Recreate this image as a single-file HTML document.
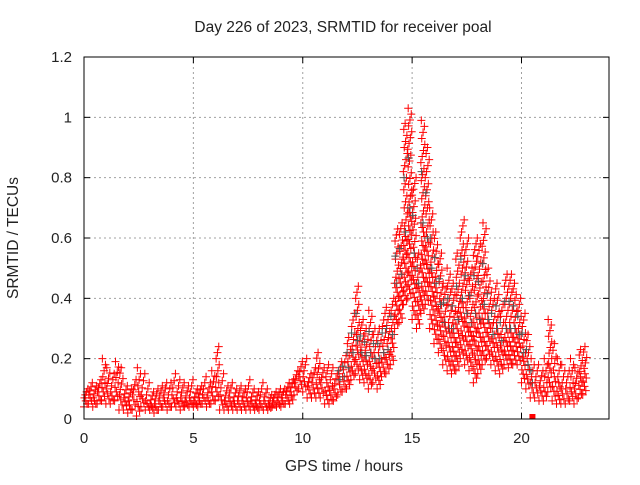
<!DOCTYPE html>
<html><head><meta charset="utf-8"><style>
body{margin:0;background:#fff}
svg text{font-family:"Liberation Sans",sans-serif;font-size:15px;fill:#222}
svg text.big{font-size:15.5px}
</style></head><body>
<svg id="c" width="640" height="480"></svg>
<script>
const times=[];for(let i=0;i<=114;i++)times.push(+(i*0.2).toFixed(1));
const hiVals=[.10,.12,.11,.13,.20,.17,.15,.19,.17,.11,.10,.13,.17,.15,.12,.09,.10,.11,.12,.12,.15,.13,.12,.11,.13,.10,.11,.14,.12,.16,.24,.15,.11,.12,.10,.11,.10,.13,.10,.09,.12,.10,.08,.09,.10,.10,.12,.13,.16,.19,.20,.15,.17,.22,.17,.18,.17,.15,.19,.21,.27,.35,.44,.33,.30,.36,.30,.30,.35,.37,.40,.63,.65,.98,1.03,.80,.55,.99,.90,.70,.62,.55,.45,.50,.45,.55,.66,.60,.50,.60,.58,.65,.50,.42,.45,.38,.48,.48,.45,.40,.35,.28,.20,.18,.16,.20,.33,.25,.20,.18,.16,.20,.17,.23,.24];
const midVals=[.07,.08,.07,.09,.12,.10,.09,.12,.08,.07,.06,.08,.09,.08,.06,.05,.05,.06,.07,.06,.08,.07,.07,.06,.07,.06,.07,.08,.07,.09,.12,.08,.06,.07,.06,.06,.06,.07,.06,.05,.06,.06,.05,.06,.06,.07,.08,.09,.12,.14,.14,.11,.12,.13,.12,.12,.11,.10,.13,.14,.17,.22,.26,.22,.21,.22,.20,.20,.22,.23,.28,.45,.48,.62,.70,.55,.45,.65,.60,.50,.45,.38,.32,.30,.30,.33,.40,.35,.32,.35,.33,.38,.33,.28,.30,.26,.30,.30,.30,.28,.22,.18,.12,.12,.11,.12,.20,.14,.12,.10,.10,.12,.10,.14,.15];
const loVals=[.04,.05,.04,.05,.06,.05,.05,.06,.03,.03,.02,.03,.01,.04,.03,.03,.02,.03,.04,.03,.04,.04,.03,.04,.04,.04,.04,.05,.04,.05,.06,.03,.03,.03,.03,.03,.03,.03,.03,.03,.03,.03,.03,.04,.04,.04,.05,.05,.08,.10,.09,.07,.07,.07,.07,.05,.05,.06,.08,.09,.10,.13,.15,.13,.12,.10,.12,.10,.14,.15,.18,.30,.32,.38,.40,.33,.30,.35,.38,.30,.25,.22,.18,.16,.15,.16,.20,.18,.16,.12,.15,.18,.20,.18,.16,.15,.18,.17,.18,.18,.12,.10,.07,.07,.06,.06,.09,.06,.05,.05,.05,.06,.05,.07,.08];
const xTicks=[0,5,10,15,20];
const yTicks=[0,0.2,0.4,0.6,0.8,1,1.2];
const L=84,R=609,T=57,B=419;
const X=t=>L+(R-L)*t/24, Y=v=>B-(B-T)*v/1.2;
const svg=document.getElementById('c'),NS='http://www.w3.org/2000/svg';
function mk(tag,a,p){const e=document.createElementNS(NS,tag);for(const k in a)e.setAttribute(k,a[k]);(p||svg).appendChild(e);return e;}
const grid=mk('g',{});


xTicks.forEach(t=>{if(t>0)mk('line',{x1:X(t),x2:X(t),y1:T,y2:B,stroke:'#a0a0a0','stroke-dasharray':'2,3'},grid);
 mk('line',{x1:X(t),x2:X(t),y1:B,y2:B-6,stroke:'#000'},grid);mk('line',{x1:X(t),x2:X(t),y1:T,y2:T+6,stroke:'#000'},grid);
 const tx=mk('text',{x:X(t),y:B+24,'text-anchor':'middle'});tx.textContent=t;
 
 });
yTicks.forEach(v=>{if(v>0&&v<1.2)mk('line',{x1:L,x2:R,y1:Y(v),y2:Y(v),stroke:'#a0a0a0','stroke-dasharray':'2,3'},grid);
 mk('line',{x1:L,x2:L+6,y1:Y(v),y2:Y(v),stroke:'#000'},grid);mk('line',{x1:R,x2:R-6,y1:Y(v),y2:Y(v),stroke:'#000'},grid);
 const tx=mk('text',{x:L-12,y:Y(v)+5,'text-anchor':'end'});tx.textContent=v;
 
 });
const pts=mk('g',{'stroke-width':1});


function cross(x,y,c){mk('path',{d:`M${x-4} ${y}h8M${x} ${y-4}v8`,stroke:c},pts);}
times.forEach((t,i)=>{
 const lo=loVals[i],mi=midVals[i],hi=hiVals[i];
 const n1=Math.max(3,Math.round((mi-lo)/0.015)),n2=Math.max(3,Math.round((hi-mi)/0.02));
 for(let k=0;k<=n1;k++){const v=lo+(mi-lo)*k/n1;cross(X(t+((k*7)%10)/50),Y(v),'#ff0000');}
 for(let k=1;k<=n2;k++){const v=mi+(hi-mi)*k/n2;cross(X(t+((k*3)%10)/50),Y(v),'#ff0000');}
 if(t>=11.5&&t<=20.5){cross(X(t+0.1),Y(mi),'#555');cross(X(t+0.03),Y((mi+hi)/2),'#555');}
});
const sq=mk('rect',{x:X(20.5)-3,y:B-5,width:6,height:5,fill:'#ff0000'});


const fr=mk('rect',{x:L,y:T,width:R-L,height:B-T,fill:'none',stroke:'#000'});


const ti=mk('text',{x:343,y:32,'text-anchor':'middle',class:'big'});ti.textContent='Day 226 of 2023, SRMTID for receiver poal';


const xl=mk('text',{x:344,y:471,'text-anchor':'middle',class:'big'});xl.textContent='GPS time / hours';


const yl=mk('text',{x:18,y:238,'text-anchor':'middle',class:'big',transform:'rotate(-90 18 238)'});yl.textContent='SRMTID / TECUs';


</script>
</body></html>
